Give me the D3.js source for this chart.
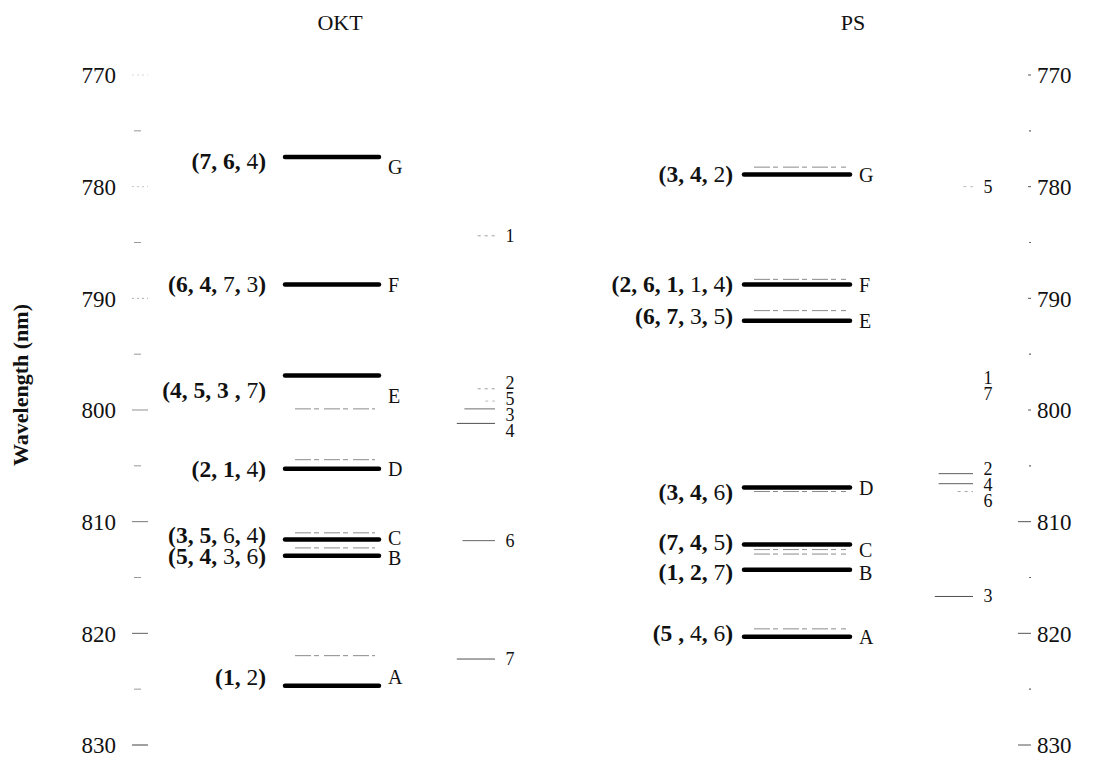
<!DOCTYPE html>
<html>
<head>
<meta charset="utf-8">
<script src="https://cdn.jsdelivr.net/npm/d3@7"></script>
<style>
  body { margin: 0; background: #fff; }
  text { font-family: "Liberation Serif", "Times New Roman", serif; fill: #111; }
</style>
</head>
<body>
<svg id="chart" width="1117" height="759"></svg>
<script>
// Excited-state levels (nm) for the two samples, top to bottom G..A
const panels = ["OKT", "PS"];
const levelNames = ["G", "F", "E", "D", "C", "B", "A"];
const oktLevels = [777.35, 788.75, 796.9, 805.25, 811.6, 813.05, 824.7];
const psLevels  = [778.9, 788.75, 792.0, 806.95, 812.05, 814.3, 820.3];

// Peak assignments per level; the first n numbers are the dominant (bold) ones
const oktAssign = ["(7, 6, 4)", "(6, 4, 7, 3)", "(4, 5, 3 , 7)", "(2, 1, 4)", "(3, 5, 6, 4)", "(5, 4, 3, 6)", "(1, 2)"];
const oktBold   = [2, 2, 3, 2, 2, 2, 1];
const psAssign  = ["(3, 4, 2)", "(2, 6, 1, 1, 4)", "(6, 7, 3, 5)", "(3, 4, 6)", "(7, 4, 5)", "(1, 2, 7)", "(5 , 4, 6)"];
const psBold    = [2, 3, 2, 2, 2, 2, 1];

// Weak satellite lines next to the main levels (nm)
const oktSatellites = [799.9, 804.45, 811.0, 812.35, 822.0];
const psSatellites  = [778.25, 788.3, 791.1, 807.3, 812.5, 812.9, 819.6];

// Numbered spectral peaks (nm) and their relative strength
const oktPeaks     = ["1", "2", "5", "3", "4", "6", "7"];
const oktPeakNm    = [784.4, 798.1, 799.2, 799.9, 801.2, 811.7, 822.3];
const oktPeakStr   = [0.35, 0.35, 0.15, 0.7, 0.9, 0.75, 0.9];
const psPeaks      = ["5", "1", "7", "2", "4", "6", "3"];
const psPeakNm     = [780.0, 797.0, 798.4, 805.7, 806.6, 807.3, 816.7];
const psPeakStr    = [0.15, 0, 0, 0.8, 0.8, 0.3, 0.9];

// Axis
const yDomain = [770, 830];
const majorTicks = [770, 780, 790, 800, 810, 820, 830];
const minorTicks = [775, 785, 795, 805, 815, 825];

const svg = d3.select("#chart");
const y = d3.scaleLinear().domain(yDomain).range([75, 745]);

// Horizontal layout of the two panels: bar centre per panel
const xPanel = d3.scalePoint().domain(panels).range([332, 797]);
const barHalf = {OKT: 47, PS: 53};
const labelGap = {OKT: 19, PS: 11};
const peakX = {OKT: 497, PS: 975};
const titleX = {OKT: 340, PS: 853};

// ---- axes on both sides ----
const leftAxis = d3.axisLeft(y).tickValues(majorTicks).tickSize(0).tickPadding(0).tickFormat(d3.format("d"));
const gL = svg.append("g").attr("transform", "translate(116,0)").call(leftAxis);
gL.select(".domain").remove();
gL.selectAll("text").attr("font-size", 23).attr("font-family", "Liberation Serif").attr("fill", "#111").attr("dy", "0.34em");

const rightAxis = d3.axisRight(y).tickValues(majorTicks).tickSize(0).tickPadding(0).tickFormat(d3.format("d"));
const gR = svg.append("g").attr("transform", "translate(1037,0)").call(rightAxis);
gR.select(".domain").remove();
gR.selectAll("text").attr("font-size", 23).attr("font-family", "Liberation Serif").attr("fill", "#111").attr("dy", "0.34em");

// faint tick marks
svg.append("g").selectAll("line").data(majorTicks).join("line")
  .attr("x1", 132).attr("x2", 148)
  .attr("y1", d => y(d)).attr("y2", d => y(d))
  .attr("stroke", (d, i) => d3.interpolateGreys(0.25 + i * 0.09)).attr("stroke-width", 1)
  .attr("stroke-dasharray", (d, i) => i < 3 ? "2,3" : null);
svg.append("g").selectAll("line").data(minorTicks).join("line")
  .attr("x1", 134).attr("x2", 141)
  .attr("y1", d => y(d)).attr("y2", d => y(d))
  .attr("stroke", "#999").attr("stroke-width", 1);
svg.append("g").selectAll("line").data(majorTicks).join("line")
  .attr("x1", d => d >= 810 ? 1018 : 1028).attr("x2", 1031)
  .attr("y1", d => y(d)).attr("y2", d => y(d))
  .attr("stroke", "#555").attr("stroke-width", 1);
svg.append("g").selectAll("line").data(minorTicks).join("line")
  .attr("x1", 1029).attr("x2", 1031)
  .attr("y1", d => y(d)).attr("y2", d => y(d))
  .attr("stroke", "#666").attr("stroke-width", 1.2);

// y-axis title
svg.append("text")
  .attr("transform", "translate(28,385) rotate(-90)")
  .attr("text-anchor", "middle")
  .attr("font-size", 22).attr("font-weight", "bold")
  .text("Wavelength (nm)");

// ---- panels ----
const panelData = {
  OKT: {levels: oktLevels, assign: oktAssign, bold: oktBold, sats: oktSatellites,
        peaks: oktPeaks, peakNm: oktPeakNm, peakStr: oktPeakStr,
        labelNudge: {E: 15, A: -9, C: -5, G: 4}, letterNudge: {E: 20, G: 10, A: -9, C: -2, B: 2}},
  PS:  {levels: psLevels, assign: psAssign, bold: psBold, sats: psSatellites,
        peaks: psPeaks, peakNm: psPeakNm, peakStr: psPeakStr,
        labelNudge: {E: -5, D: 4, C: -3, B: 2, A: -4}, letterNudge: {E: 0, C: 5, B: 3}}
};

panels.forEach(p => {
  const pd = panelData[p];
  const cx = xPanel(p);
  const x0 = cx - barHalf[p], x1 = cx + barHalf[p];
  const g = svg.append("g");

  g.append("text").attr("x", titleX[p]).attr("y", 30).attr("text-anchor", "middle")
    .attr("font-size", 22).text(p);

  // satellite lines
  g.selectAll("line.sat").data(pd.sats).join("line").attr("class", "sat")
    .attr("x1", x0 + 10).attr("x2", x1 - 4)
    .attr("y1", d => y(d)).attr("y2", d => y(d))
    .attr("stroke", "#8a8a8a").attr("stroke-width", 1)
    .attr("stroke-dasharray", "16,3,5,5");

  // main levels
  const lv = levelNames.map((n, i) => ({name: n, nm: pd.levels[i], a: pd.assign[i], b: pd.bold[i]}));
  g.selectAll("line.lvl").data(lv).join("line").attr("class", "lvl")
    .attr("x1", x0).attr("x2", x1)
    .attr("y1", d => y(d.nm)).attr("y2", d => y(d.nm))
    .attr("stroke", "#000").attr("stroke-width", 4.5).attr("stroke-linecap", "round");

  // level letters
  g.selectAll("text.lt").data(lv).join("text").attr("class", "lt")
    .attr("x", x1 + 9).attr("y", d => y(d.nm) + (pd.letterNudge[d.name] || 0))
    .attr("dy", "0.36em").attr("font-family", "Liberation Sans").attr("font-size", 20)
    .text(d => d.name);

  // assignment labels: punctuation and dominant numbers bold
  const lab = g.selectAll("text.as").data(lv).join("text").attr("class", "as")
    .attr("x", x0 - labelGap[p]).attr("y", d => y(d.nm) + (pd.labelNudge[d.name] || 0))
    .attr("dy", "0.34em").attr("text-anchor", "end").attr("font-size", 23.5);
  lab.each(function(d) {
    const t = d3.select(this);
    let digitCount = 0;
    d.a.match(/\d+|[^\d]+/g).forEach(tok => {
      const isNum = /\d/.test(tok);
      const bold = !isNum || digitCount < d.b;
      if (isNum) digitCount++;
      t.append("tspan").attr("font-weight", bold ? "bold" : "normal").text(tok);
    });
  });

  // numbered peaks with short tick lines; labels stacked to avoid overlap
  const pk = pd.peaks.map((n, i) => ({n, nm: pd.peakNm[i], s: pd.peakStr[i], ty: y(pd.peakNm[i])}));
  const gap = 16;
  let groups = [];
  pk.forEach(d => {
    const last = groups[groups.length - 1];
    if (last && d.ty - last[last.length - 1].ty < gap) last.push(d); else groups.push([d]);
  });
  groups.forEach(gr => {
    if (gr.length < 2) return;
    const mean = d3.mean(gr, d => d.ty);
    gr.forEach((d, k) => d.ty = mean + 2 + (k - (gr.length - 1) / 2) * gap);
  });
  g.selectAll("line.pk").data(pk.filter(d => d.s > 0)).join("line").attr("class", "pk")
    .attr("x1", d => peakX[p] - 6 - 38 * d.s).attr("x2", peakX[p] - 2)
    .attr("y1", d => y(d.nm)).attr("y2", d => y(d.nm))
    .attr("stroke", d => d3.interpolateGreys(0.3 + 0.5 * d.s)).attr("stroke-width", 1)
    .attr("stroke-dasharray", d => d.s < 0.5 ? "3,4" : null);
  g.selectAll("text.pk").data(pk).join("text").attr("class", "pk")
    .attr("x", peakX[p] + 13).attr("y", d => d.ty).attr("dy", "0.33em")
    .attr("text-anchor", "middle").attr("font-size", 18)
    .text(d => d.n);
});
</script>
</body>
</html>
